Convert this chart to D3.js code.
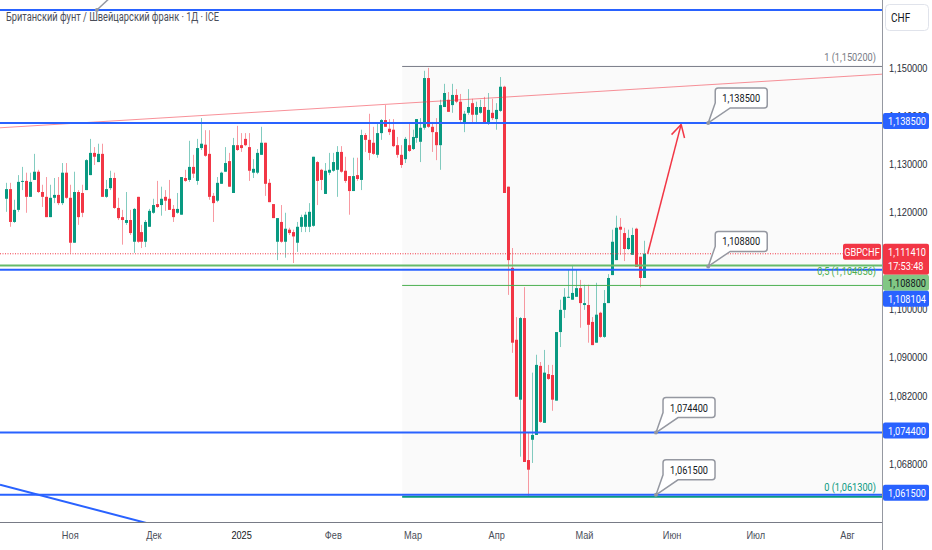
<!DOCTYPE html>
<html>
<head>
<meta charset="utf-8">
<script src="https://cdn.jsdelivr.net/npm/d3@7"></script>
<style>
html, body { margin: 0; padding: 0; background: #fff; }
svg { display: block; font-family: Roboto, "DejaVu Sans", sans-serif; }
</style>
</head>
<body>
<svg id="chart" width="932" height="550"></svg>
<script>
// ---- data ----
const title = "Британский фунт / Швейцарский франк · 1Д · ICE";
const currency = "CHF";
const symbol = "GBPCHF";
const firstDay = "2024-10-10";
const lastDay = "2025-08-29";
const monthTicks = ["2024-11-01", "2024-12-02", "2025-01-01", "2025-02-03", "2025-03-03",
                    "2025-04-01", "2025-05-01", "2025-06-02", "2025-07-01", "2025-08-01"];
const monthLabels = ["Ноя", "Дек", "2025", "Фев", "Мар", "Апр", "Май", "Июн", "Июл", "Авг"];
const priceTicks = [1.15, 1.14, 1.13, 1.12, 1.11, 1.10, 1.09, 1.082, 1.068];

// daily candles, one per trading day from firstDay
const open = [
  1.1228,1.1248,1.1180,1.1205,1.1263,1.1265,1.1232,1.1267,1.1284,1.1242,
  1.1232,1.1190,1.1230,1.1236,1.1219,1.1282,1.1230,1.1137,1.1242,1.1240,
  1.1246,1.1277,1.1323,1.1304,1.1321,1.1232,1.1250,1.1271,1.1209,1.1190,
  1.1178,1.1184,1.1139,1.1232,1.1159,1.1139,1.1170,1.1199,1.1217,1.1215,
  1.1232,1.1228,1.1207,1.1199,1.1195,1.1271,1.1267,1.1294,1.1265,1.1333,
  1.1340,
  1.1321,1.1234,1.1224,1.1259,1.1284,1.1306,1.1240,1.1339,1.1339,1.1352,
  1.1335,1.1282,1.1282,1.1319,1.1344,1.1261,1.1217,1.1139,1.1180,1.1139,
  1.1164,1.1159,1.1137,1.1170,1.1170,1.1170,1.1172,1.1304,1.1288,1.1238,
  1.1282,1.1286,1.1288,1.1325,1.1286,1.1275,1.1244,1.1277,1.1267,1.1360,
  1.1350,1.1344,1.1319,1.1364,1.1391,1.1373,1.1371,1.1339,1.1319,
  1.1310,1.1339,1.1331,1.1354,1.1346,1.1375,1.1478,1.1377,1.1366,1.1339,
  1.1418,1.1433,1.1422,1.1443,1.1429,1.1387,1.1406,1.1426,1.1402,1.1406,
  1.1418,1.1383,1.1406,1.1393,1.1410,
  1.1460,1.1253,1.1085,1.0936,1.0812,1.0981,1.0687,
  1.0729,1.0739,1.0882,1.0764,1.0865,1.0863,1.0810,1.0952,1.0998,1.1023,
  1.1019,1.1025,1.1043,1.1008,1.1008,1.0973,1.0930,1.0992,1.0942,1.1012,
  1.1070,1.1101,1.1170,1.1157,1.1124,1.1112,1.1166,1.1108,1.1064
];
const high = [
  1.1261,1.1261,1.1226,1.1277,1.1294,1.1282,1.1282,1.1321,1.1288,1.1257,
  1.1273,1.1257,1.1271,1.1273,1.1302,1.1302,1.1257,1.1284,1.1246,1.1257,
  1.1310,1.1352,1.1335,1.1342,1.1342,1.1267,1.1286,1.1282,1.1230,1.1205,
  1.1242,1.1205,1.1209,1.1232,1.1174,1.1184,1.1207,1.1228,1.1265,1.1253,
  1.1246,1.1267,1.1215,1.1240,1.1273,1.1288,1.1348,1.1319,1.1352,1.1395,
  1.1370,
  1.1370,1.1240,1.1273,1.1284,1.1335,1.1323,1.1354,1.1379,1.1364,1.1364,
  1.1364,1.1310,1.1331,1.1377,1.1344,1.1269,1.1217,1.1188,1.1215,1.1199,
  1.1168,1.1164,1.1180,1.1195,1.1201,1.1219,1.1315,1.1306,1.1290,1.1302,
  1.1323,1.1323,1.1337,1.1337,1.1315,1.1275,1.1313,1.1313,1.1371,1.1364,
  1.1404,1.1377,1.1383,1.1393,1.1422,1.1393,1.1393,1.1356,1.1339,
  1.1356,1.1387,1.1371,1.1393,1.1395,1.1493,1.1499,1.1387,1.1395,1.1433,
  1.1466,1.1449,1.1466,1.1455,1.1445,1.1410,1.1455,1.1435,1.1429,1.1433,
  1.1439,1.1447,1.1435,1.1426,1.1480,
  1.1462,1.1253,1.1126,1.0983,1.0983,1.1045,1.0745,
  1.0868,1.0905,1.0890,1.0915,1.0884,1.0884,1.0952,1.1019,1.1043,1.1081,
  1.1091,1.1081,1.1060,1.1050,1.1050,1.0983,1.1054,1.0994,1.1039,1.1072,
  1.1164,1.1193,1.1188,1.1168,1.1164,1.1168,1.1168,1.1108,1.1141
];
const low = [
  1.1201,1.1170,1.1178,1.1201,1.1246,1.1199,1.1232,1.1267,1.1240,1.1211,
  1.1190,1.1190,1.1219,1.1215,1.1215,1.1228,1.1116,1.1137,1.1174,1.1190,
  1.1246,1.1277,1.1298,1.1304,1.1232,1.1230,1.1246,1.1207,1.1184,1.1133,
  1.1174,1.1153,1.1116,1.1137,1.1126,1.1128,1.1170,1.1197,1.1209,1.1193,
  1.1203,1.1205,1.1180,1.1197,1.1195,1.1263,1.1263,1.1271,1.1257,1.1329,
  1.1315,
  1.1226,1.1180,1.1221,1.1259,1.1284,1.1253,1.1240,1.1327,1.1325,1.1337,
  1.1265,1.1271,1.1279,1.1319,1.1234,1.1221,1.1188,1.1101,1.1137,1.1106,
  1.1153,1.1095,1.1118,1.1159,1.1159,1.1159,1.1170,1.1215,1.1246,1.1238,
  1.1277,1.1284,1.1232,1.1282,1.1261,1.1195,1.1244,1.1265,1.1246,1.1325,
  1.1308,1.1319,1.1313,1.1350,1.1377,1.1360,1.1335,1.1313,1.1292,
  1.1302,1.1325,1.1329,1.1344,1.1304,1.1371,1.1375,1.1325,1.1308,1.1288,
  1.1418,1.1408,1.1406,1.1426,1.1387,1.1366,1.1402,1.1387,1.1387,1.1404,
  1.1383,1.1381,1.1391,1.1371,1.1408,
  1.1240,1.1029,1.0909,1.0818,1.0694,1.0683,1.0613,
  1.0681,1.0739,1.0764,1.0764,1.0853,1.0789,1.0810,1.0921,1.0981,1.1023,
  1.1019,1.1025,1.0961,1.0998,1.0930,1.0925,1.0930,1.0940,1.0940,1.1012,
  1.1070,1.1101,1.1112,1.1099,1.1122,1.1112,1.1087,1.1045,1.1064
];
const close = [
  1.1248,1.1180,1.1205,1.1263,1.1265,1.1232,1.1263,1.1284,1.1242,1.1232,
  1.1190,1.1230,1.1236,1.1219,1.1282,1.1230,1.1137,1.1242,1.1190,1.1199,
  1.1308,1.1323,1.1315,1.1321,1.1232,1.1248,1.1271,1.1209,1.1188,1.1184,
  1.1184,1.1157,1.1207,1.1139,1.1139,1.1180,1.1203,1.1215,1.1211,1.1228,
  1.1224,1.1205,1.1190,1.1207,1.1273,1.1265,1.1294,1.1280,1.1333,1.1342,
  1.1317,
  1.1232,1.1219,1.1261,1.1282,1.1302,1.1253,1.1339,1.1329,1.1333,1.1339,
  1.1286,1.1290,1.1323,1.1344,1.1259,1.1221,1.1188,1.1188,1.1139,1.1166,
  1.1157,1.1150,1.1170,1.1190,1.1195,1.1201,1.1315,1.1265,1.1267,1.1286,
  1.1288,1.1304,1.1325,1.1284,1.1265,1.1244,1.1275,1.1269,1.1360,1.1350,
  1.1323,1.1321,1.1364,1.1391,1.1377,1.1366,1.1337,1.1319,1.1298,
  1.1352,1.1327,1.1356,1.1393,1.1375,1.1478,1.1377,1.1366,1.1339,1.1422,
  1.1447,1.1408,1.1443,1.1429,1.1391,1.1404,1.1418,1.1402,1.1418,1.1418,
  1.1383,1.1412,1.1395,1.1412,1.1460,
  1.1240,1.1101,1.0930,1.0818,1.0981,1.0683,1.0667,
  1.0739,1.0884,1.0766,1.0868,1.0855,1.0812,1.0952,1.0998,1.1025,1.1025,
  1.1033,1.1043,1.1012,1.1012,1.0967,1.0925,1.0988,1.0942,1.1012,1.1064,
  1.1139,1.1168,1.1164,1.1124,1.1147,1.1153,1.1087,1.1064,1.11141
];

// drawings (bar index, price)
const topLevel = 1.1619;
const blueLevels = [1.1385, 1.108104, 1.0744, 1.0615];
const greenLevel = 1.1088;
const fibStart = 99.4;
const fibPrices = [1.1502, 1.104856, 1.0613];
const fibLabels = ["1 (1,150200)", "0,5 (1,104856)", "0 (1,061300)"];
const lastPrice = 1.11141;
const lastTime = "17:53:48";
const calloutPrices = [1.1385, 1.1088, 1.0744, 1.0615];
const calloutIndex = [176.2, 176.2, 163.1, 163.1];
const redTrend = [[-1.5, 1.1375], [219.8, 1.1486]];
const blueTrend = [[-1.5, 1.0636], [36, 1.0555]];
const arrowPts = [[161, 1.11141], [169.4, 1.1382]];
const topCalloutIndex = 22.8;

// ---- layout ----
const W = 932, H = 550, plotW = 882, plotH = 522;
const svg = d3.select("#chart");
const fmt = v => d3.format(".6f")(v).replace(".", ",");

const x = d3.scaleLinear().domain([-1.5, 219.8]).range([0, plotW]);
const y = d3.scaleLinear().domain([1.05587, 1.16396]).range([plotH, 0]);

const parse = d3.utcParse("%Y-%m-%d");
const days = d3.utcDay.range(parse(firstDay), d3.utcDay.offset(parse(lastDay), 1))
  .filter(d => d.getUTCDay() % 6 !== 0);
const dayIndex = new Map(days.map((d, i) => [+d, i]));
const monthIdx = monthTicks.map(s => dayIndex.get(+parse(s)));

svg.append("defs").append("clipPath").attr("id", "plot")
  .append("rect").attr("width", plotW).attr("height", plotH);

const plot = svg.append("g").attr("clip-path", "url(#plot)");

// fib background
const fx0 = x(fibStart);
plot.append("rect")
  .attr("x", fx0).attr("y", y(fibPrices[0]))
  .attr("width", plotW - fx0).attr("height", y(fibPrices[2]) - y(fibPrices[0]))
  .attr("fill", "#787b86").attr("fill-opacity", 0.04);

// candles
const candles = plot.append("g");
close.forEach((c, i) => {
  const up = c >= open[i];
  const col = up ? "#089981" : "#f23645";
  const cx = Math.round(x(i)) + 0.5;
  candles.append("line")
    .attr("x1", cx).attr("x2", cx).attr("y1", y(high[i])).attr("y2", y(low[i]))
    .attr("stroke", col).attr("stroke-opacity", 0.5).attr("stroke-width", 1);
  const top = y(Math.max(open[i], c)), bot = y(Math.min(open[i], c));
  candles.append("rect")
    .attr("x", cx - 1.5).attr("y", top)
    .attr("width", 3).attr("height", Math.max(1, bot - top))
    .attr("fill", col);
});

// current price dotted line
plot.append("line")
  .attr("x1", 0).attr("x2", 843).attr("y1", y(lastPrice)).attr("y2", y(lastPrice))
  .attr("stroke", "#f23645").attr("stroke-width", 1).attr("stroke-dasharray", "1,1.5");

// fib lines
const fibColors = ["#787b86", "#4caf50", "#089981"];
fibPrices.forEach((p, i) => {
  const off = i === 2 ? 1 : 0;
  plot.append("line")
    .attr("x1", fx0).attr("x2", plotW).attr("y1", y(p) + off).attr("y2", y(p) + off)
    .attr("stroke", fibColors[i]).attr("stroke-width", i === 2 ? 2 : 1);
  svg.append("text").attr("class", "narrow")
    .attr("x", 876).attr("y", y(p) - (i === 1 ? 10 : 5))
    .attr("text-anchor", "end").attr("font-size", 11.5)
    .attr("fill", fibColors[i]).text(fibLabels[i]);
});

// trend lines
const line = d3.line().x(d => x(d[0])).y(d => y(d[1]));
plot.append("path").attr("d", line(redTrend))
  .attr("stroke", "#f23645").attr("stroke-opacity", 0.55).attr("stroke-width", 1).attr("fill", "none");
plot.append("path").attr("d", line(blueTrend))
  .attr("stroke", "#2962ff").attr("stroke-width", 2).attr("fill", "none");

// horizontal levels
plot.append("line").attr("x1", 0).attr("x2", plotW)
  .attr("y1", y(greenLevel) - 1).attr("y2", y(greenLevel) - 1)
  .attr("stroke", "#66bb6a").attr("stroke-width", 2);
[topLevel].concat(blueLevels).forEach(p => {
  plot.append("line").attr("x1", 0).attr("x2", plotW)
    .attr("y1", y(p)).attr("y2", y(p))
    .attr("stroke", "#2962ff").attr("stroke-width", 2);
});

// arrow
const a0 = [x(arrowPts[0][0]), y(arrowPts[0][1])];
const a1 = [x(arrowPts[1][0]), y(arrowPts[1][1])];
plot.append("line").attr("x1", a0[0]).attr("y1", a0[1]).attr("x2", a1[0]).attr("y2", a1[1])
  .attr("stroke", "#f23645").attr("stroke-width", 1.5);
const ang = Math.atan2(a1[1] - a0[1], a1[0] - a0[0]);
[0.5, -0.5].forEach(da => {
  plot.append("line").attr("x1", a1[0]).attr("y1", a1[1])
    .attr("x2", a1[0] - 14 * Math.cos(ang + da)).attr("y2", a1[1] - 14 * Math.sin(ang + da))
    .attr("stroke", "#f23645").attr("stroke-width", 1.5);
});

// callouts
function callout(ax, ay, label) {
  const bx = ax + 7, by = ay - 35, bw = 52, bh = 20;
  const path = `M${bx + 3},${by} H${bx + bw - 3} Q${bx + bw},${by} ${bx + bw},${by + 3} V${by + bh - 3}
    Q${bx + bw},${by + bh} ${bx + bw - 3},${by + bh} H${bx + 15} L${ax},${ay} L${bx},${by + bh - 5} V${by + 3} Q${bx},${by} ${bx + 3},${by} Z`;
  plot.append("path").attr("d", path).attr("fill", "#fff")
    .attr("stroke", "#9598a1").attr("stroke-width", 1.5);
  plot.append("circle").attr("cx", ax).attr("cy", ay).attr("r", 2).attr("fill", "#9598a1");
  plot.append("text").attr("class", "narrow").attr("x", bx + bw / 2).attr("y", by + bh / 2 + 4)
    .attr("text-anchor", "middle").attr("font-size", 11.5).attr("fill", "#131722").text(label);
}
calloutPrices.forEach((p, i) => callout(x(calloutIndex[i]), y(p), fmt(p)));

// pointer of a callout above the view
const tcx = x(topCalloutIndex), tcy = y(topLevel);
plot.append("line").attr("x1", tcx).attr("y1", tcy).attr("x2", tcx + 13).attr("y2", tcy - 12)
  .attr("stroke", "#9598a1").attr("stroke-width", 1.5);
plot.append("circle").attr("cx", tcx).attr("cy", tcy).attr("r", 2).attr("fill", "#9598a1");

// ---- axes ----
const yAxis = svg.append("g").attr("transform", `translate(${plotW},0)`)
  .call(d3.axisRight(y).tickValues(priceTicks).tickSize(0).tickPadding(7).tickFormat(fmt));
yAxis.select(".domain").remove();
yAxis.selectAll("text").attr("class", "narrow").attr("font-size", 11.5).attr("fill", "#2a2e39")
  .attr("font-family", null);

const xAxis = svg.append("g").attr("transform", `translate(0,${plotH})`)
  .call(d3.axisBottom(x).tickValues(monthIdx).tickSize(0).tickPadding(9)
    .tickFormat((d, i) => monthLabels[i]));
xAxis.select(".domain").attr("d", `M0,0.5H${plotW}`).attr("stroke", "#787b86");
xAxis.selectAll("text").attr("class", "narrow").attr("font-size", 11.5).attr("font-family", null)
  .attr("fill", (d, i) => monthLabels[i] === "2025" ? "#131722" : "#4a4e59")
  .attr("font-weight", (d, i) => monthLabels[i] === "2025" ? 500 : null);

svg.append("line").attr("x1", plotW + 0.5).attr("x2", plotW + 0.5).attr("y1", 0).attr("y2", H)
  .attr("stroke", "#9598a1").attr("stroke-width", 1);

// price tags on the right axis, stacked to avoid overlap
const tags = [
  { p: blueLevels[0], lines: [fmt(blueLevels[0])], bg: "#2962ff", fg: "#fff" },
  { p: lastPrice, lines: [fmt(lastPrice), lastTime], bg: "#f23645", fg: "#fff" },
  { p: greenLevel, lines: [fmt(greenLevel)], bg: "#81c784", fg: "#131722" },
  { p: blueLevels[1], lines: [fmt(blueLevels[1])], bg: "#2962ff", fg: "#fff" },
  { p: blueLevels[2], lines: [fmt(blueLevels[2])], bg: "#2962ff", fg: "#fff" },
  { p: blueLevels[3], lines: [fmt(blueLevels[3])], bg: "#2962ff", fg: "#fff" }
].sort((a, b) => y(a.p) - y(b.p));
let prevBottom = -Infinity;
tags.forEach(t => {
  const h = t.lines.length === 2 ? 31 : 16;
  const top = Math.max(y(t.p) - 10, prevBottom);
  prevBottom = top + h;
  svg.append("rect").attr("x", plotW + 1).attr("y", top).attr("width", 46).attr("height", h)
    .attr("rx", 2).attr("fill", t.bg);
  t.lines.forEach((s, k) => {
    svg.append("text").attr("class", "narrow").attr("x", plotW + 6).attr("y", top + 12 + k * 14)
      .attr("font-size", 11.5).attr("fill", t.fg).text(s);
  });
  if (t.lines.length === 2) {
    svg.append("rect").attr("x", 843).attr("y", top).attr("width", 38).attr("height", 16)
      .attr("rx", 2).attr("fill", t.bg);
    svg.append("text").attr("class", "narrow").attr("x", 862).attr("y", top + 12)
      .attr("text-anchor", "middle").attr("font-size", 11.5).attr("fill", "#fff").text(symbol);
  }
});

// currency box
svg.append("rect").attr("x", 885.5).attr("y", 4.5).attr("width", 43).attr("height", 26)
  .attr("rx", 4).attr("fill", "#fff").attr("stroke", "#e0e3eb");
svg.append("text").attr("class", "narrow").attr("x", 891).attr("y", 22).attr("font-size", 12.5)
  .attr("fill", "#131722").text(currency);

// title
svg.append("text").attr("class", "narrow title").attr("x", 6).attr("y", 21).attr("font-size", 12.5)
  .attr("fill", "#4a4e59").text(title);

// squeeze texts horizontally to the narrow look of the original
svg.selectAll("text.narrow").each(function () {
  const w = this.getComputedTextLength();
  const f = this.classList.contains("title") ? 0.74 : 0.8;
  this.setAttribute("textLength", (w * f).toFixed(1));
  this.setAttribute("lengthAdjust", "spacingAndGlyphs");
});
</script>
</body>
</html>
